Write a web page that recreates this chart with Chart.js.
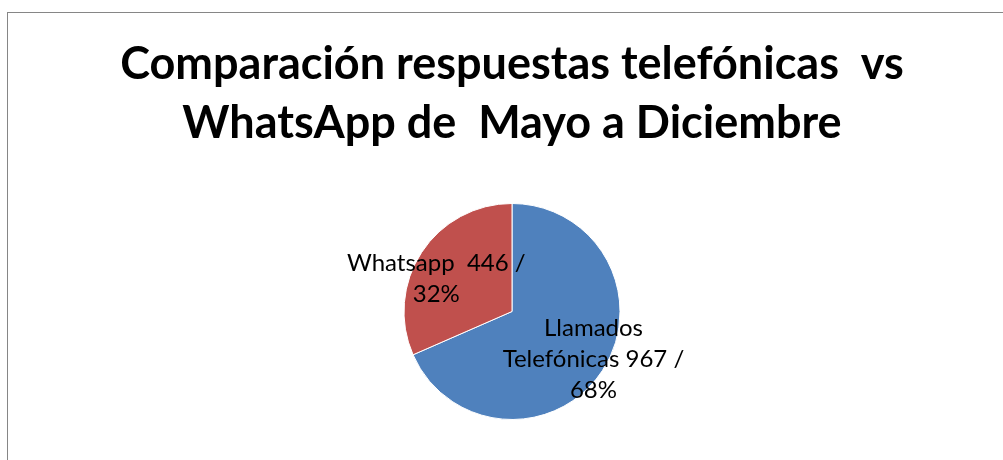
<!DOCTYPE html>
<html>
<head>
<meta charset="utf-8">
<script src="https://cdn.jsdelivr.net/npm/chart.js@4/dist/chart.umd.min.js"></script>
<style>
  html, body { margin: 0; padding: 0; background: #fff; overflow: hidden; }
  body { width: 1003px; height: 460px; position: relative; }
  #frame {
    position: absolute; left: 7px; top: 12px; width: 1010px; height: 470px;
    border-left: 1px solid #868686; border-top: 1px solid #868686;
  }
  #wrap { position: absolute; left: 0; top: 0; width: 1008px; height: 447px; }
</style>
</head>
<body>
<div id="frame"><div id="wrap"><canvas id="pieChart"></canvas></div></div>
<script>
// --- Données ---
const categories = ['Llamados Telefónicas', 'Whatsapp'];
const values = [967, 446];
const percents = ['68%', '32%'];
const labelLines = [
    ['Llamados', 'Telefónicas 967 /', '68%'],
    ['Whatsapp  446 /', '32%']
];
const titleLines = ['Comparación respuestas telefónicas  vs', 'WhatsApp de  Mayo a Diciembre'];

const sliceColors = ['#4F81BD', '#C0504D'];

// Étiquettes de données dessinées sur chaque part (style Excel)
const sliceLabels = {
    id: 'sliceLabels',
    afterDatasetsDraw(chart, args, opts) {
        const ctx = chart.ctx;
        const meta = chart.getDatasetMeta(0);
        ctx.save();
        ctx.font = opts.font;
        ctx.fillStyle = '#000';
        ctx.textAlign = 'center';
        ctx.textBaseline = 'middle';
        meta.data.forEach((arc, i) => {
            const p = arc.getProps(['x', 'y', 'startAngle', 'endAngle', 'outerRadius'], true);
            const mid = (p.startAngle + p.endAngle) / 2 + opts.angleShift[i];
            const r = p.outerRadius * opts.radial[i];
            const cx = p.x + Math.cos(mid) * r;
            const cy = p.y + Math.sin(mid) * r;
            const lines = labelLines[i];
            const top = cy - (lines.length - 1) * opts.lineHeight / 2;
            lines.forEach((line, k) => ctx.fillText(line, cx, top + k * opts.lineHeight));
        });
        ctx.restore();
    }
};

new Chart(document.getElementById('pieChart'), {
    type: 'pie',
    data: {
        labels: categories,
        datasets: [{
            data: values,
            backgroundColor: sliceColors,
            borderColor: '#ffffff',
            borderWidth: 1
        }]
    },
    options: {
        responsive: true,
        maintainAspectRatio: false,
        animation: false,
        layout: { padding: { top: 0, bottom: 40, left: 0, right: 0 } },
        plugins: {
            legend: { display: false },
            tooltip: { enabled: false },
            title: {
                display: true,
                text: titleLines,
                color: '#000',
                font: { family: 'Lato', size: 45, weight: 'bold', lineHeight: 1.311 },
                padding: { top: 22, bottom: 50 }
            },
            sliceLabels: {
                font: '24px Lato',
                lineHeight: 31,
                radial: [0.874, 0.764],
                angleShift: [-0.05, -0.17]
            }
        }
    },
    plugins: [sliceLabels]
});
</script>
</body>
</html>
